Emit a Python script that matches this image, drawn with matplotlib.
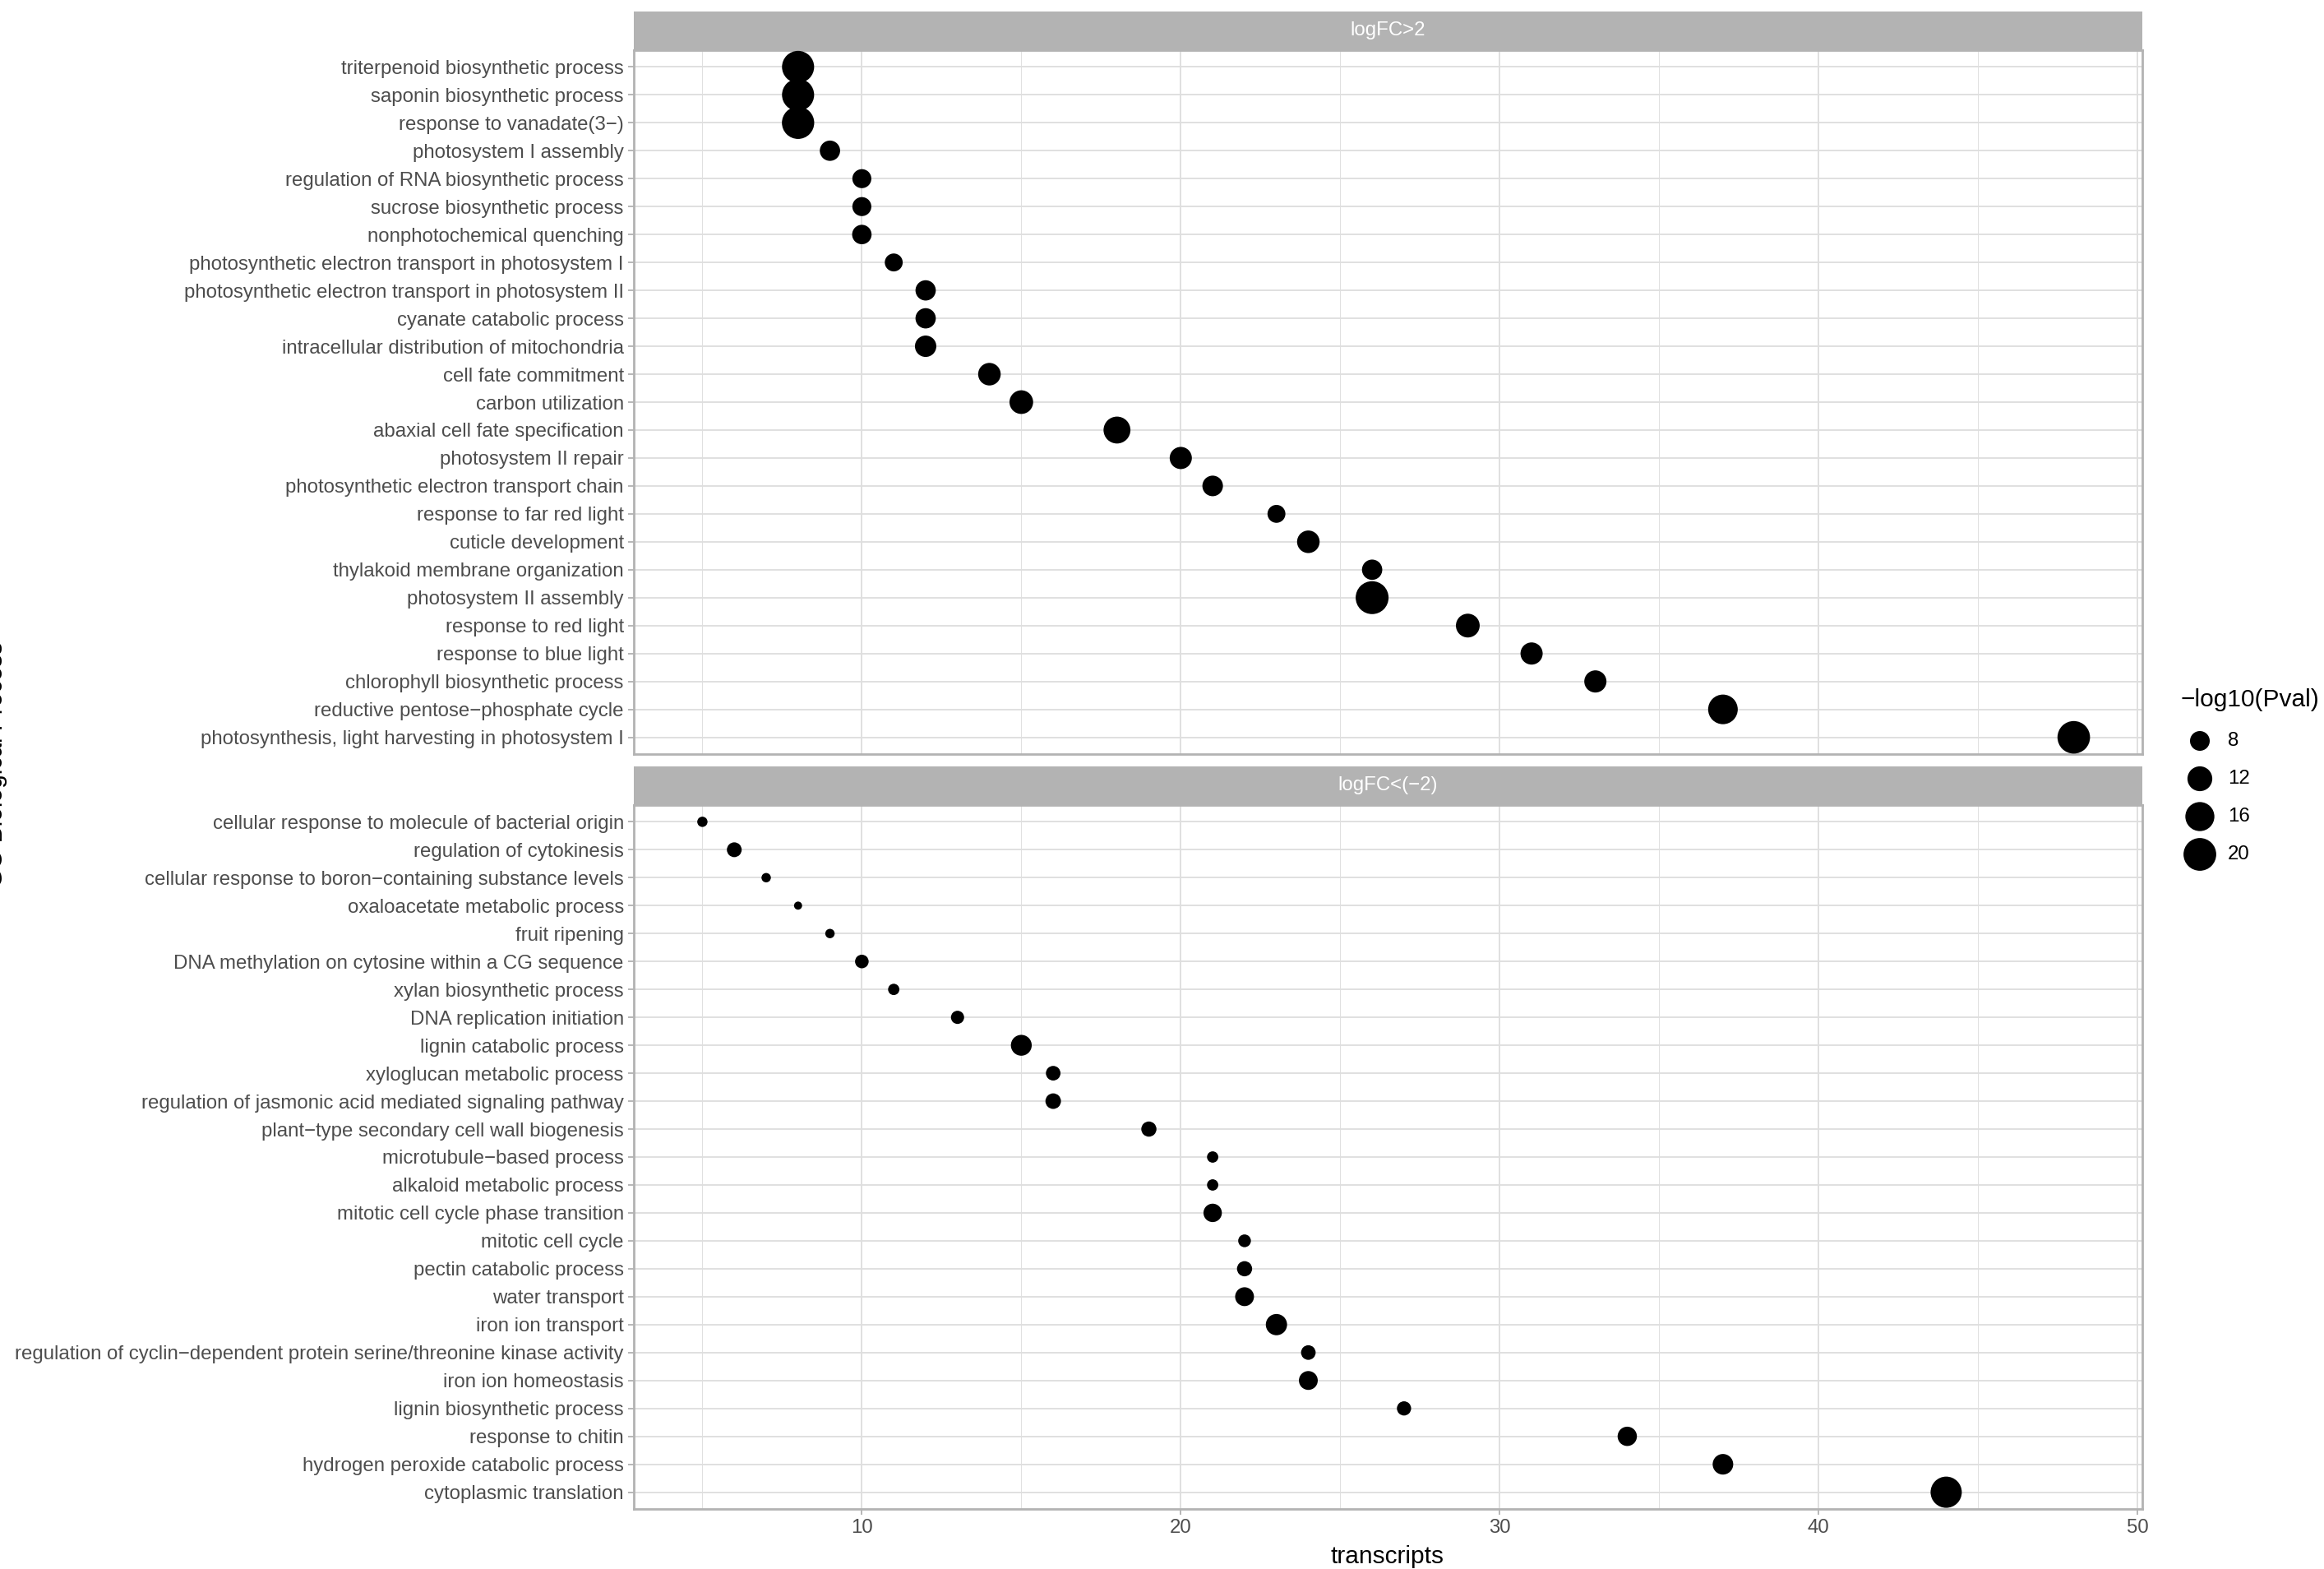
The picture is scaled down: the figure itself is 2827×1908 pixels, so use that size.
import numpy as np
import matplotlib.pyplot as plt

plt.rcParams['font.family'] = ['Liberation Sans', 'DejaVu Sans']

# termos enriquecidos - painel de cima (logFC>2), de cima para baixo
up_terms = ['triterpenoid biosynthetic process', 'saponin biosynthetic process',
            'response to vanadate(3−)', 'photosystem I assembly',
            'regulation of RNA biosynthetic process', 'sucrose biosynthetic process',
            'nonphotochemical quenching', 'photosynthetic electron transport in photosystem I',
            'photosynthetic electron transport in photosystem II', 'cyanate catabolic process',
            'intracellular distribution of mitochondria', 'cell fate commitment',
            'carbon utilization', 'abaxial cell fate specification', 'photosystem II repair',
            'photosynthetic electron transport chain', 'response to far red light',
            'cuticle development', 'thylakoid membrane organization', 'photosystem II assembly',
            'response to red light', 'response to blue light', 'chlorophyll biosynthetic process',
            'reductive pentose−phosphate cycle', 'photosynthesis, light harvesting in photosystem I']
up_counts = [8, 8, 8, 9, 10, 10, 10, 11, 12, 12, 12, 14, 15, 18, 20, 21, 23, 24, 26, 26,
             29, 31, 33, 37, 48]
up_pval = [19.3, 19.3, 19.5, 8.4, 7.5, 7.5, 7.8, 6.8, 8.4, 8.4, 9.2, 10.1, 11.0, 13.9, 9.8,
           8.6, 6.8, 10.1, 8.4, 20.2, 11.1, 9.8, 9.8, 16.6, 19.8]

# painel de baixo (logFC<(-2))
down_terms = ['cellular response to molecule of bacterial origin', 'regulation of cytokinesis',
              'cellular response to boron−containing substance levels', 'oxaloacetate metabolic process',
              'fruit ripening', 'DNA methylation on cytosine within a CG sequence',
              'xylan biosynthetic process', 'DNA replication initiation', 'lignin catabolic process',
              'xyloglucan metabolic process', 'regulation of jasmonic acid mediated signaling pathway',
              'plant−type secondary cell wall biogenesis', 'microtubule−based process',
              'alkaloid metabolic process', 'mitotic cell cycle phase transition', 'mitotic cell cycle',
              'pectin catabolic process', 'water transport', 'iron ion transport',
              'regulation of cyclin−dependent protein serine/threonine kinase activity',
              'iron ion homeostasis', 'lignin biosynthetic process', 'response to chitin',
              'hydrogen peroxide catabolic process', 'cytoplasmic translation']
down_counts = [5, 6, 7, 8, 9, 10, 11, 13, 15, 16, 16, 19, 21, 21, 21, 22, 22, 22, 23, 24, 24,
               27, 34, 37, 44]
down_pval = [3.0, 5.0, 2.7, 2.3, 2.7, 4.4, 3.4, 4.2, 8.8, 4.9, 5.4, 5.2, 3.4, 3.4, 7.1, 4.0,
             5.2, 7.4, 9.1, 4.9, 7.4, 4.7, 7.7, 8.6, 18.3]

panel_titles = ['logFC>2', 'logFC<(−2)']
legend_vals = [8, 12, 16, 20]
x_major = [10, 20, 30, 40, 50]
x_minor = [5, 15, 25, 35, 45]

W, H, DPI = 2827, 1908, 168
GRID = '#DEDEDE'
BORDER = '#B3B3B3'
TXT = '#4D4D4D'
FS_SMALL = 10.3   # texto dos eixos / legenda
FS_TITLE = 12.8   # titulos


def box(x0, y0, x1, y1):
    # pixels (origem no topo) -> fração da figura
    return [x0 / W, 1 - y1 / H, (x1 - x0) / W, (y1 - y0) / H]


def point_size(v):
    d = np.sqrt(84 * np.asarray(v, dtype=float) - 96) * 72 / DPI
    return d ** 2


fig = plt.figure(figsize=(W / DPI, H / DPI), dpi=DPI)

panels = [(up_terms, up_counts, up_pval, 14, 61, 917),
          (down_terms, down_counts, down_pval, 932, 979, 1835)]

for i, (terms, counts, pvals, s_top, p_top, p_bot) in enumerate(panels):
    n = len(terms)
    ax = fig.add_axes(box(771, p_top, 2606, p_bot))
    ax.scatter(counts, np.arange(n), s=point_size(pvals), c='black', linewidths=0, zorder=3)
    ax.set_xlim(2.85, 50.15)
    ax.set_ylim(n - 1 + 0.6, -0.6)
    ax.set_yticks(np.arange(n))
    ax.set_yticklabels(terms)
    ax.set_xticks(x_major)
    ax.set_xticks(x_minor, minor=True)
    ax.grid(which='major', color=GRID, lw=0.8)
    ax.grid(which='minor', axis='x', color=GRID, lw=0.4)
    ax.set_axisbelow(True)
    for sp in ax.spines.values():
        sp.set_color(BORDER)
        sp.set_linewidth(1.2)
    ax.tick_params(which='major', length=3.0, width=0.8, color=BORDER, labelcolor=TXT,
                   labelsize=FS_SMALL, pad=2.2)
    ax.tick_params(which='minor', length=0)
    if i == 0:
        ax.tick_params(axis='x', which='both', bottom=False, labelbottom=False)

    # faixa cinza do facet
    sax = fig.add_axes(box(771, s_top, 2606, p_top))
    sax.set_facecolor(BORDER)
    sax.set_xticks([])
    sax.set_yticks([])
    for sp in sax.spines.values():
        sp.set_visible(False)
    sax.text(0.5, 0.5, panel_titles[i], color='white', fontsize=FS_SMALL,
             ha='center', va='center', transform=sax.transAxes)

# titulos dos eixos
fig.text(1688 / W, 1 - 1893 / H, 'transcripts', fontsize=FS_TITLE, ha='center', va='center')
fig.text(9 / W, 1 - 930 / H, 'GO Biological Process', fontsize=FS_TITLE, rotation=90,
         ha='right', va='center')

# legenda de tamanho
fig.text(2653 / W, 1 - 851 / H, '−log10(Pval)', fontsize=FS_TITLE, ha='left', va='center')
lax = fig.add_axes(box(2640, 878, 2712, 1062))
lax.scatter([0] * len(legend_vals), np.arange(len(legend_vals)), s=point_size(legend_vals),
            c='black', linewidths=0)
lax.set_xlim(-1, 1)
lax.set_ylim(len(legend_vals) - 0.5, -0.5)
for j, v in enumerate(legend_vals):
    lax.text(0.95, j, str(v), fontsize=FS_SMALL, ha='left', va='center', clip_on=False)
lax.axis('off')

fig.savefig('out.png', dpi=DPI)
